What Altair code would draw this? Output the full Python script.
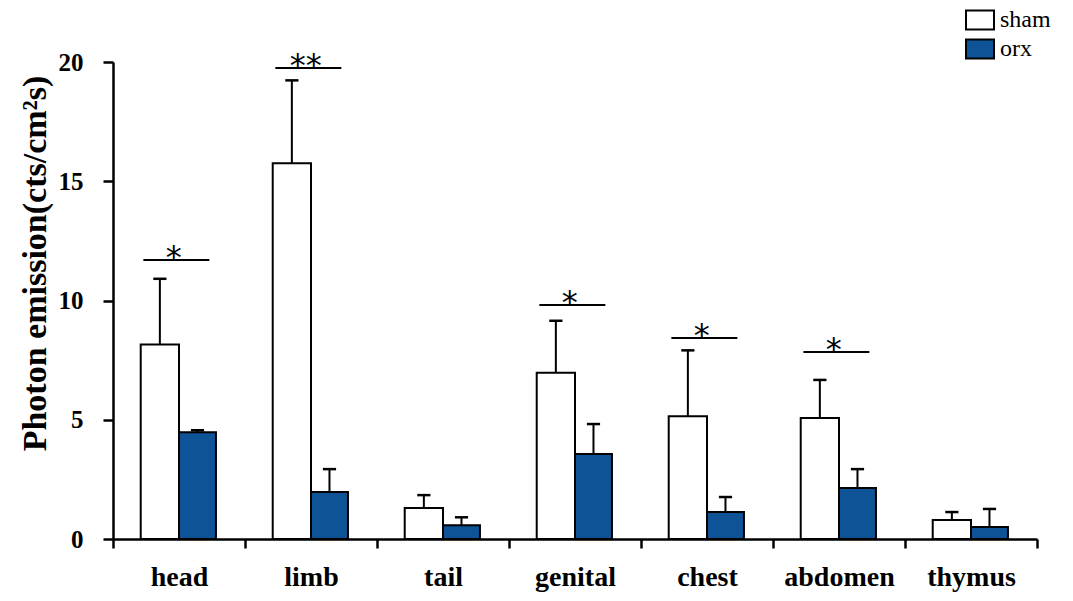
import json
import altair as alt
import pandas as pd

categories = ["head", "limb", "tail", "genital", "chest", "abdomen", "thymus"]
groups = ["sham", "orx"]
sham_mean = [8.15, 15.75, 1.30, 6.97, 5.15, 5.07, 0.80]
sham_err = [2.76, 3.48, 0.54, 2.18, 2.76, 1.60, 0.33]
orx_mean = [4.48, 1.97, 0.58, 3.56, 1.13, 2.14, 0.50]
orx_err = [0.08, 0.96, 0.33, 1.26, 0.63, 0.79, 0.76]

sig_categories = ["head", "limb", "genital", "chest", "abdomen"]
sig_labels = ["*", "**", "*", "*", "*"]
sig_level = [11.70, 19.75, 9.81, 8.43, 7.84]

BAR_W = 0.29
CAP = 0.05

rows = []
for i, c in enumerate(categories):
    center = i + 0.5
    for g, m, e in (("sham", sham_mean[i], sham_err[i]), ("orx", orx_mean[i], orx_err[i])):
        if g == "sham":
            x0, x1 = center - BAR_W, center
        else:
            x0, x1 = center, center + BAR_W - 0.01
        xc = (x0 + x1) / 2
        rows.append(dict(category=c, group=g, mean=m, top=m + e, zero=0.0,
                         x0=x0, x1=x1, xc=xc, cl=xc - CAP, cr=xc + CAP))
df = pd.DataFrame(rows)

sig_rows = []
for c, lab, lev in zip(sig_categories, sig_labels, sig_level):
    center = categories.index(c) + 0.5
    sig_rows.append(dict(category=c, label=lab, level=lev,
                         sl=center - 0.27, sr=center + 0.23, sm=center - 0.04))
sdf = pd.DataFrame(sig_rows)

FONT = "Liberation Serif"
xs = alt.Scale(domain=[0, 7], nice=False, zero=False)
ys = alt.Scale(domain=[0, 20], nice=False, zero=True)

label_expr = "datum.value < 7 ? " + json.dumps(categories) + "[datum.value] : ''"
x_axis = alt.Axis(values=list(range(8)), labelExpr=label_expr, labelOffset=66,
                  tickSize=9, tickWidth=2.5, tickColor="black", domainWidth=2.5,
                  domainColor="black", grid=False, labelFont=FONT, labelFontWeight="bold",
                  labelFontSize=28, labelColor="black", labelPadding=15, labelOverlap=False,
                  labelBound=False, labelFlush=False, title=None)
y_axis = alt.Axis(values=[0, 5, 10, 15, 20], tickSize=10, tickWidth=2.5, tickColor="black",
                  domainWidth=2.5, domainColor="black", grid=False, labelFont=FONT,
                  labelFontWeight="bold", labelFontSize=25, labelColor="black", labelPadding=20,
                  title="Photon emission(cts/cm\u00b2s)", titleFont=FONT, titleFontWeight="bold",
                  titleFontSize=34, titleColor="black", titleX=-78, titleY=201,
                  titleAngle=-90, titleAlign="center", titleBaseline="middle")

base = alt.Chart(df)

bars = base.mark_rect(stroke="black", strokeWidth=2).encode(
    x=alt.X("x0:Q", scale=xs, axis=x_axis),
    x2="x1:Q",
    y=alt.Y("mean:Q", scale=ys, axis=y_axis),
    y2="zero:Q",
    fill=alt.Fill("group:N", scale=alt.Scale(domain=groups, range=["white", "#0e5396"]),
                  legend=alt.Legend(orient="none", legendX=852, legendY=-57, title=None,
                                    symbolType="M-1,-0.68H1V0.68H-1Z", symbolSize=784,
                                    symbolStrokeColor="black", symbolStrokeWidth=2,
                                    labelFont=FONT, labelFontSize=24, labelColor="black",
                                    rowPadding=0, labelOffset=5)),
)

err_v = base.mark_rule(color="black", strokeWidth=2).encode(
    x=alt.X("xc:Q", scale=xs, axis=x_axis),
    y=alt.Y("mean:Q", scale=ys, axis=y_axis),
    y2="top:Q",
)
err_cap = base.mark_rule(color="black", strokeWidth=2.5).encode(
    x=alt.X("cl:Q", scale=xs, axis=x_axis),
    x2="cr:Q",
    y=alt.Y("top:Q", scale=ys, axis=y_axis),
)

sbase = alt.Chart(sdf)
sig_line = sbase.mark_rule(color="black", strokeWidth=2).encode(
    x=alt.X("sl:Q", scale=xs, axis=x_axis),
    x2="sr:Q",
    y=alt.Y("level:Q", scale=ys, axis=y_axis),
)
sig_text = sbase.mark_text(font="DejaVu Sans", fontSize=32, color="black",
                           baseline="alphabetic", dy=8).encode(
    x=alt.X("sm:Q", scale=xs, axis=x_axis),
    y=alt.Y("level:Q", scale=ys, axis=y_axis),
    text="label:N",
)

chart = alt.layer(bars, err_v, err_cap, sig_line, sig_text).properties(
    width=924, height=477,
    background="white",
    autosize=alt.AutoSizeParams(type="none"),
    padding={"left": 105, "top": 54, "right": 27, "bottom": 53},
).configure_view(stroke=None)

chart.save("out.html", embed_options={"renderer": "svg", "actions": False})
